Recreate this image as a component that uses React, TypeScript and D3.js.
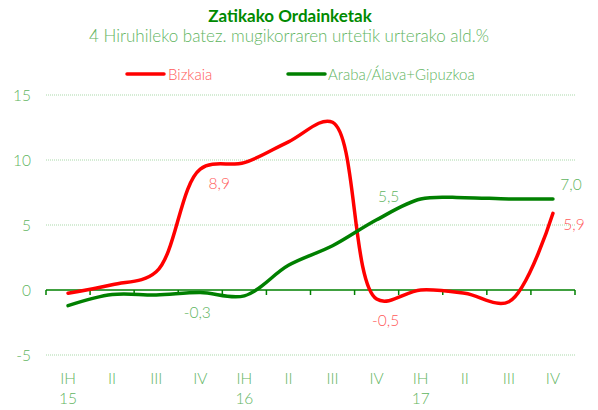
import React from 'react';
import * as d3 from 'd3';

const quarters = ['IH', 'II', 'III', 'IV', 'IH', 'II', 'III', 'IV', 'IH', 'II', 'III', 'IV'];
const years = ['15', '', '', '', '16', '', '', '', '17', '', '', ''];
const bizkaia = [-0.25, 0.4, 1.4, 9.3, 9.8, 11.4, 12.9, -0.7, 0.0, -0.25, -0.9, 5.9];
const arabaGipuzkoa = [-1.2, -0.35, -0.38, -0.2, -0.45, 1.9, 3.4, 5.4, 7.0, 7.1, 7.0, 7.0];
const yTicks = [-5, 0, 5, 10, 15];
// data labels: [series index, category index, text]
const labels: [number, number, string][] = [
  [0, 3, '8,9'],
  [1, 3, '-0,3'],
  [1, 7, '5,5'],
  [0, 7, '-0,5'],
  [1, 11, '7,0'],
  [0, 11, '5,9'],
];

const width = 598,
  height = 410;
const margin = { top: 95, right: 23, bottom: 55, left: 46 };
const font = 'Lato, "Open Sans", sans-serif';
const RED = '#ff0000';
const GREEN = '#008000';
const LIGHT_GREEN = '#5fb55f';
const LIGHT_RED = '#ff5a5a';

export default function App() {
  const idx = d3.range(quarters.length);
  const x = d3
    .scaleBand<number>()
    .domain(idx)
    .range([margin.left, width - margin.right]);
  const cx = (i: number) => (x(i) as number) + x.bandwidth() / 2;

  const y = d3
    .scaleLinear()
    .domain([-5, 15])
    .range([355, 95]);

  const line = d3
    .line<number>()
    .x((_, i) => cx(i))
    .y((d) => y(d))
    .curve(d3.curveCatmullRom.alpha(0.5));

  const series = [
    { name: 'Bizkaia', values: bizkaia, color: RED, label: LIGHT_RED },
    { name: 'Araba/Álava+Gipuzkoa', values: arabaGipuzkoa, color: GREEN, label: LIGHT_GREEN },
  ];

  // label offsets per label (relative to point)
  const offsets: [number, number][] = [
    [19, 15],
    [-3, 20],
    [12, -23],
    [9, 22],
    [18, -14],
    [21, 12],
  ];

  return (
    <svg
      width={width}
      height={height}
      style={{ position: 'absolute', left: 0, top: 0, background: '#fff' }}
      fontFamily={font}
    >
      <text x={290} y={22} textAnchor="middle" fontSize={17} fontWeight={700} fill="#008a00">
        Zatikako Ordainketak
      </text>
      <text x={289} y={42} textAnchor="middle" fontSize={17} fontWeight={300} fill={LIGHT_GREEN}>
        4 Hiruhileko batez. mugikorraren urtetik urterako ald.%
      </text>

      {/* legend */}
      <line x1={127} x2={164} y1={74} y2={74} stroke={RED} strokeWidth={3.5} strokeLinecap="round" />
      <text x={168} y={80} fontSize={15} fontWeight={300} fill={LIGHT_RED}>
        Bizkaia
      </text>
      <line x1={288} x2={325} y1={74} y2={74} stroke={GREEN} strokeWidth={3.5} strokeLinecap="round" />
      <text x={328} y={80} fontSize={15} fontWeight={300} fill={LIGHT_GREEN}>
        Araba/Álava+Gipuzkoa
      </text>

      {/* grid */}
      {yTicks
        .filter((t) => t !== 0)
        .map((t) => (
          <line
            key={t}
            x1={margin.left}
            x2={width - margin.right}
            y1={y(t)}
            y2={y(t)}
            stroke="#a9d9a9"
            strokeWidth={1}
            strokeDasharray="1,1"
          />
        ))}
      {yTicks.map((t) => (
        <text key={t} x={31} y={y(t) + 5.5} textAnchor="end" fontSize={15.5} fontWeight={300} fill={LIGHT_GREEN}>
          {t}
        </text>
      ))}

      {/* zero axis */}
      <line x1={margin.left} x2={width - margin.right} y1={y(0)} y2={y(0)} stroke={GREEN} strokeWidth={1.5} />
      {d3.range(quarters.length + 1).map((i) => {
        const xx = margin.left + i * x.step();
        return <line key={i} x1={xx} x2={xx} y1={y(0)} y2={y(0) + 5} stroke={GREEN} strokeWidth={1.5} />;
      })}
      {quarters.map((q, i) => (
        <g key={i}>
          <text x={cx(i)} y={384} textAnchor="middle" fontSize={15.5} fontWeight={300} fill={LIGHT_GREEN}>
            {q}
          </text>
          {years[i] && (
            <text x={cx(i)} y={404} textAnchor="middle" fontSize={15.5} fontWeight={300} fill={LIGHT_GREEN}>
              {years[i]}
            </text>
          )}
        </g>
      ))}

      {/* series */}
      {series.map((s) => (
        <path
          key={s.name}
          d={line(s.values) || ''}
          fill="none"
          stroke={s.color}
          strokeWidth={3.5}
          strokeLinecap="round"
          strokeLinejoin="round"
        />
      ))}

      {labels.map(([si, ci, txt], k) => (
        <text
          key={k}
          x={cx(ci) + offsets[k][0]}
          y={y(series[si].values[ci]) + offsets[k][1] + 5}
          textAnchor="middle"
          fontSize={15.5}
          fontWeight={300}
          fill={series[si].label}
        >
          {txt}
        </text>
      ))}
    </svg>
  );
}
